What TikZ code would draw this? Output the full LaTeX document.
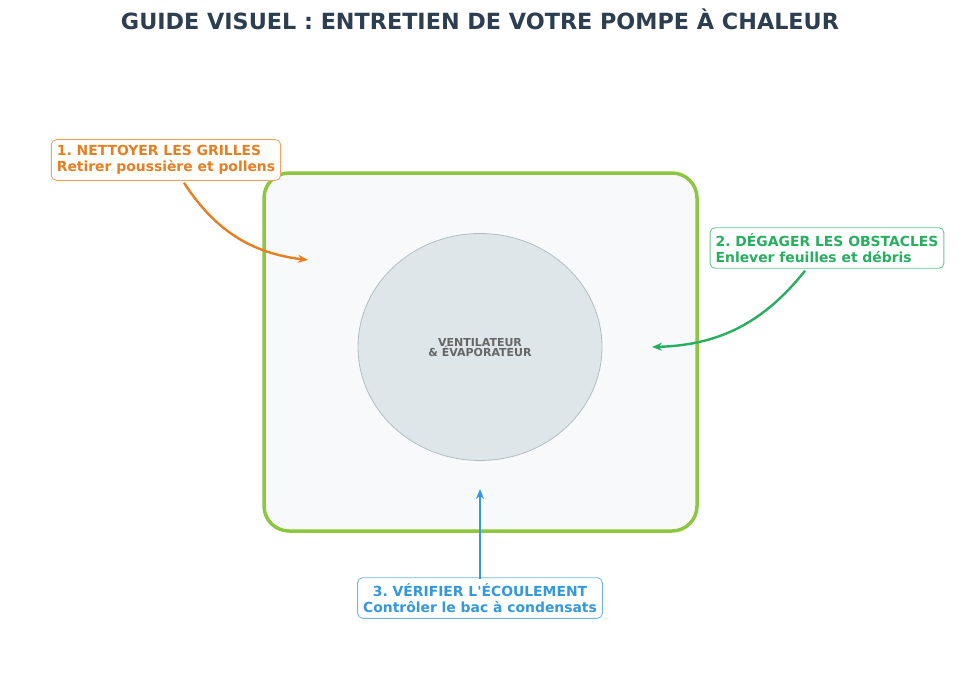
\documentclass[tikz,border=0pt]{standalone}
\usepackage{fontspec}
\setmainfont{DejaVu Sans}[Ligatures=TeXOff]
\usetikzlibrary{arrows.meta,shapes.geometric}
\frenchspacing
\definecolor{titlecol}{HTML}{2C3E50}
\definecolor{unitgreen}{HTML}{8DC63F}
\definecolor{unitfill}{HTML}{F8F9FA}
\definecolor{fanfill}{HTML}{DFE6E9}
\definecolor{fanline}{HTML}{B2BEC3}
\definecolor{stepA}{HTML}{E67E22}
\definecolor{stepB}{HTML}{27AE60}
\definecolor{stepC}{HTML}{3498DB}
\tikzset{
  tipbox/.style={draw=#1!70, fill=white, rounded corners=5pt, line width=0.9pt,
    text=#1, font=\bfseries\fontsize{13.9}{16.5}\selectfont, inner sep=5.5pt},
  tiparrow/.style={draw=#1, line width=2.4pt, -{Stealth[length=10pt,width=8pt]}}
}
\begin{document}
\begin{tikzpicture}[x=1pt,y=-1pt]
    \useasboundingbox (0,0) rectangle (960,690);

    % Title
    \node[text=titlecol, font=\bfseries\fontsize{22.3}{24}\selectfont] (title) at (480,19)
        {GUIDE VISUEL : ENTRETIEN DE VOTRE POMPE À CHALEUR};

    % Outdoor unit
    \draw[unitgreen, fill=unitfill, line width=3.5pt, rounded corners=25pt]
        (264,173) rectangle (697,531);
    \node[ellipse, draw=fanline, fill=fanfill, line width=0.8pt,
          minimum width=244pt, minimum height=227pt, inner sep=0pt] (fan) at (480,347) {};
    \node[text=black!60, font=\bfseries\fontsize{11}{11}\selectfont, align=center] (fanlabel)
        at (480,348) {VENTILATEUR\\[-1pt]\& ÉVAPORATEUR};

    % Maintenance tips
    \node[tipbox=stepA, align=left] (grilles) at (166,160)
        {1. NETTOYER LES GRILLES\\Retirer poussière et pollens};
    \node[tipbox=stepB, align=left] (obstacles) at (827,248)
        {2. DÉGAGER LES OBSTACLES\\Enlever feuilles et débris};
    \node[tipbox=stepC, align=center] (ecoulement) at (480,598)
        {3. VÉRIFIER L'ÉCOULEMENT\\Contrôler le bac à condensats};

    % Arrow targets
    \coordinate (grillesT) at (308,260);
    \coordinate (obstaclesT) at (652,347);
    \coordinate (ecoulementT) at (480,489);

    % Arrows
    \draw[tiparrow=stepA] ([xshift=18pt,yshift=-2pt]grilles.south) to[bend right=25] (grillesT);
    \draw[tiparrow=stepB] ([xshift=-22pt,yshift=-2pt]obstacles.south) to[bend left=25] (obstaclesT);
    \draw[tiparrow=stepC] ([yshift=-2pt]ecoulement.north) -- (ecoulementT);
\end{tikzpicture}
\end{document}
